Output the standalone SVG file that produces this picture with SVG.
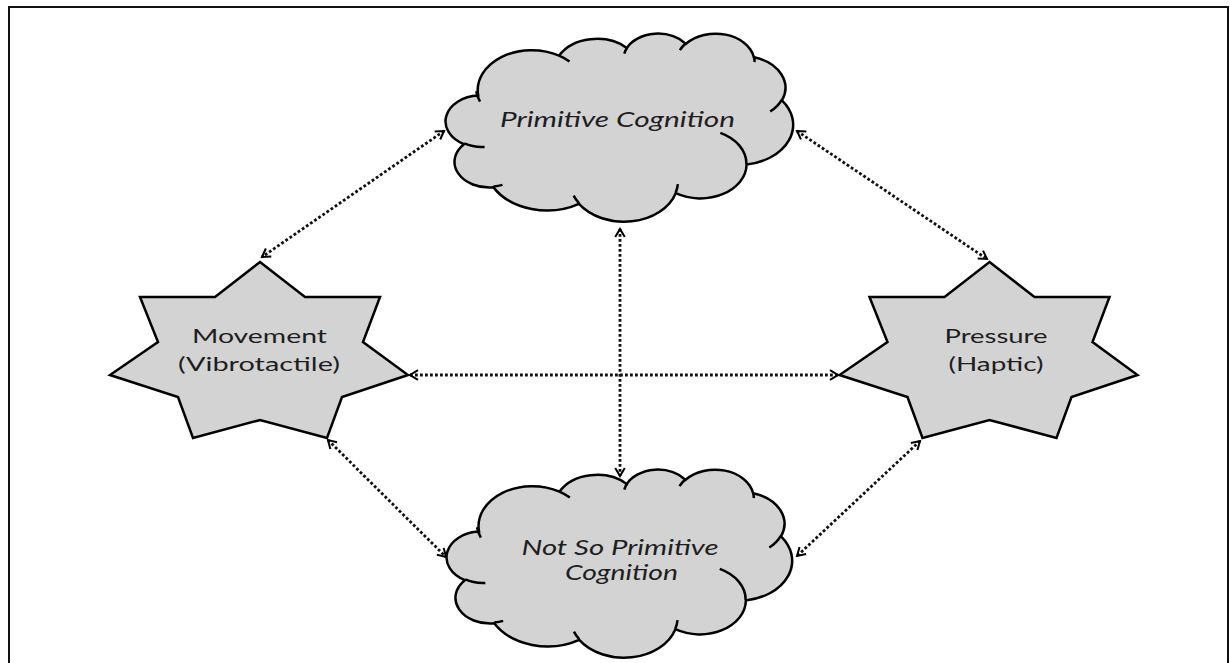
<svg xmlns="http://www.w3.org/2000/svg" xmlns:xlink="http://www.w3.org/1999/xlink" width="1230" height="663" viewBox="0 0 1230 663">
  <style>
    .frame { fill: none; stroke: #111; stroke-width: 2; }
    .shape { fill: #d3d3d3; stroke: #000; stroke-width: 2.5; stroke-linejoin: miter; }
    .cloud { fill: #d3d3d3; stroke: #000; stroke-width: 2.5; }
    .crease { fill: none; stroke: #000; stroke-width: 2.5; }
    .label { font-family: Lato, "Open Sans", "Liberation Sans", sans-serif; fill: #1e1e1e; text-anchor: middle; }
    .star-label { font-size: 18.5px; }
    .cloud-label { font-size: 20.5px; font-style: italic; }
    .link { fill: none; stroke: #111; stroke-width: 2.8; stroke-dasharray: 2.8 2.2; marker-start: url(#open-arrow); marker-end: url(#open-arrow); }
  </style>
  <defs>
    <marker id="open-arrow" viewBox="-11 -7 13 14" refX="0" refY="0" markerWidth="13" markerHeight="14" markerUnits="userSpaceOnUse" orient="auto-start-reverse">
      <path d="M-8,-4.8 L0,0 L-8,4.8" fill="none" stroke="#000" stroke-width="2"/>
    </marker>
    <!-- cloud outline in a 43200 x 43200 unit box -->
    <path id="cloud-outline" vector-effect="non-scaling-stroke" d="M3900 14370 A6753 9190 0 0 1 14005 5202 A5333 7267 0 0 1 22456 3432 A4365 5945 0 0 1 29833 2481 A4857 6595 0 0 1 38318 5576 A5333 7273 0 0 1 41818 15460 A6775 9220 0 0 1 37404 30203 A5785 7867 0 0 1 28556 36813 A6752 9215 0 0 1 16480 39264 A7720 10543 0 0 1 5805 35470 A4360 5918 0 0 1 2113 25548 A4345 5945 0 0 1 3900 14370 Z"/>
    <!-- inner crease arcs of the cloud -->
    <path id="cloud-creases" vector-effect="non-scaling-stroke" d="M4693 26177 A4345 5945 0 0 1 2160 25380 M6928 34899 A4360 5918 0 0 1 5820 35281 M16478 39090 A6752 9215 0 0 1 15810 37350 M28827 34751 A6752 9215 0 0 1 28560 36660 M34129 22954 A5785 7867 0 0 1 37380 30090 M41798 15354 A5333 7273 0 0 1 40350 18030 M38324 5426 A4857 6595 0 0 1 38401 6690 M29078 3952 A4857 6595 0 0 1 29820 2341 M22141 4720 A4365 5945 0 0 1 22500 3330 M14000 5192 A6753 9190 0 0 1 15300 6541 M4127 15789 A6753 9190 0 0 1 3647 13381"/>
    <!-- seven-point star -->
    <polygon id="star7" points="260,262 305,297 380,297 363,342 408,375 342,397 327,438 260,420 193,438 178,397 110,375 158,342 140,297 215,297"/>
  </defs>

  <rect width="1230" height="663" fill="#fff"/>
  <path class="frame" d="M9,663 V7 H1228 V663"/>

  <g id="connectors">
    <line class="link" x1="444" y1="131" x2="262" y2="257"/>
    <line class="link" x1="797" y1="131" x2="987" y2="259"/>
    <line class="link" x1="620" y1="229" x2="620" y2="476"/>
    <line class="link" x1="410" y1="375" x2="838" y2="375"/>
    <line class="link" x1="328" y1="440" x2="446" y2="557"/>
    <line class="link" x1="920" y1="441" x2="797" y2="556"/>
  </g>

  <g id="primitive-cognition">
    <g transform="translate(447,33) scale(0.0080093,0.0043519)">
      <use xlink:href="#cloud-outline" class="cloud"/>
      <use xlink:href="#cloud-creases" class="crease"/>
    </g>
    <text class="label cloud-label" x="617.5" y="127" textLength="235" lengthAdjust="spacingAndGlyphs">Primitive Cognition</text>
  </g>

  <g id="not-so-primitive-cognition">
    <g transform="translate(448,469) scale(0.0079630,0.0043519)">
      <use xlink:href="#cloud-outline" class="cloud"/>
      <use xlink:href="#cloud-creases" class="crease"/>
    </g>
    <text class="label cloud-label" x="620" y="555" textLength="197" lengthAdjust="spacingAndGlyphs">Not So Primitive</text>
    <text class="label cloud-label" x="621.5" y="580" textLength="113" lengthAdjust="spacingAndGlyphs">Cognition</text>
  </g>

  <g id="movement">
    <use xlink:href="#star7" class="shape"/>
    <text class="label star-label" x="259.5" y="343" textLength="135" lengthAdjust="spacingAndGlyphs">Movement</text>
    <text class="label star-label" x="259" y="370.5" textLength="162" lengthAdjust="spacingAndGlyphs">(Vibrotactile)</text>
  </g>

  <g id="pressure">
    <use xlink:href="#star7" class="shape" x="729.5"/>
    <text class="label star-label" x="996" y="343" textLength="103" lengthAdjust="spacingAndGlyphs">Pressure</text>
    <text class="label star-label" x="996" y="370.5" textLength="95" lengthAdjust="spacingAndGlyphs">(Haptic)</text>
  </g>
</svg>
